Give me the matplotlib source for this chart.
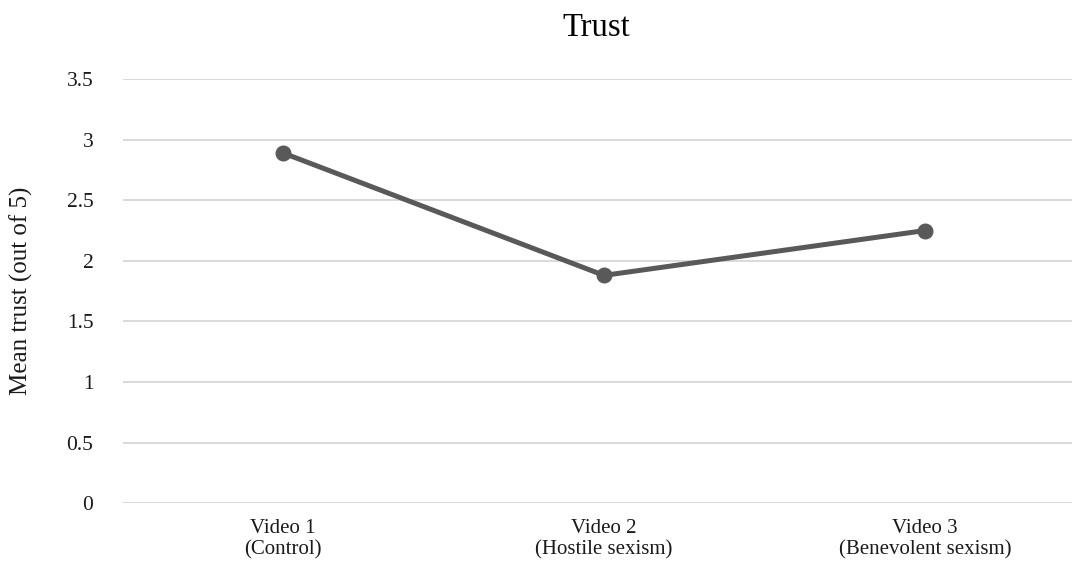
import matplotlib
matplotlib.use("Agg")
import matplotlib.pyplot as plt

categories = ["Video 1\n(Control)", "Video 2\n(Hostile sexism)", "Video 3\n(Benevolent sexism)"]
mean_trust = [2.89, 1.88, 2.25]
yticks = [0, 0.5, 1, 1.5, 2, 2.5, 3, 3.5]
ytick_labels = ["0", "0.5", "1", "1.5", "2", "2.5", "3", "3.5"]

plt.rcParams['font.family'] = ['Liberation Serif', 'DejaVu Serif']

fig = plt.figure(figsize=(10.72, 5.72), dpi=100)
W, H = 1072, 572
left = 122.5 / W
bottom = (H - 503.3) / H
top = (H - 79) / H
ax = fig.add_axes([left, bottom, 1.0 - left, top - bottom])

x = list(range(len(categories)))
ax.plot(x, mean_trust, color="#595959", linewidth=3.6, marker="o",
        markersize=10.5, solid_capstyle="round", zorder=3)

ax.set_ylim(0, 3.5)
ax.set_xlim(-0.5, 2.5 - 13.5 / 321)
ax.set_yticks(yticks)
ax.set_yticklabels(ytick_labels, fontsize=15.5, color="#1a1a1a")
ax.set_xticks(x)
ax.set_xticklabels(categories, fontsize=15, color="#1a1a1a", linespacing=1.2)
ax.tick_params(axis="both", length=0)
ax.tick_params(axis="y", pad=21)
ax.tick_params(axis="x", pad=11)
for s in ax.spines.values():
    s.set_visible(False)
ax.yaxis.grid(True, color="#d9d9d9", linewidth=1.4)
ax.set_axisbelow(True)
ax.set_ylabel("Mean trust (out of 5)", fontsize=18, color="#1a1a1a")
ax.yaxis.set_label_coords(-(122.5 - 33) / (W - 122.5), 0.5)

fig.text(596 / W, 1 - 28 / H, "Trust", ha="center", va="center", fontsize=23.5, color="#000000")

fig.savefig("out.png", dpi=100, facecolor="white")
